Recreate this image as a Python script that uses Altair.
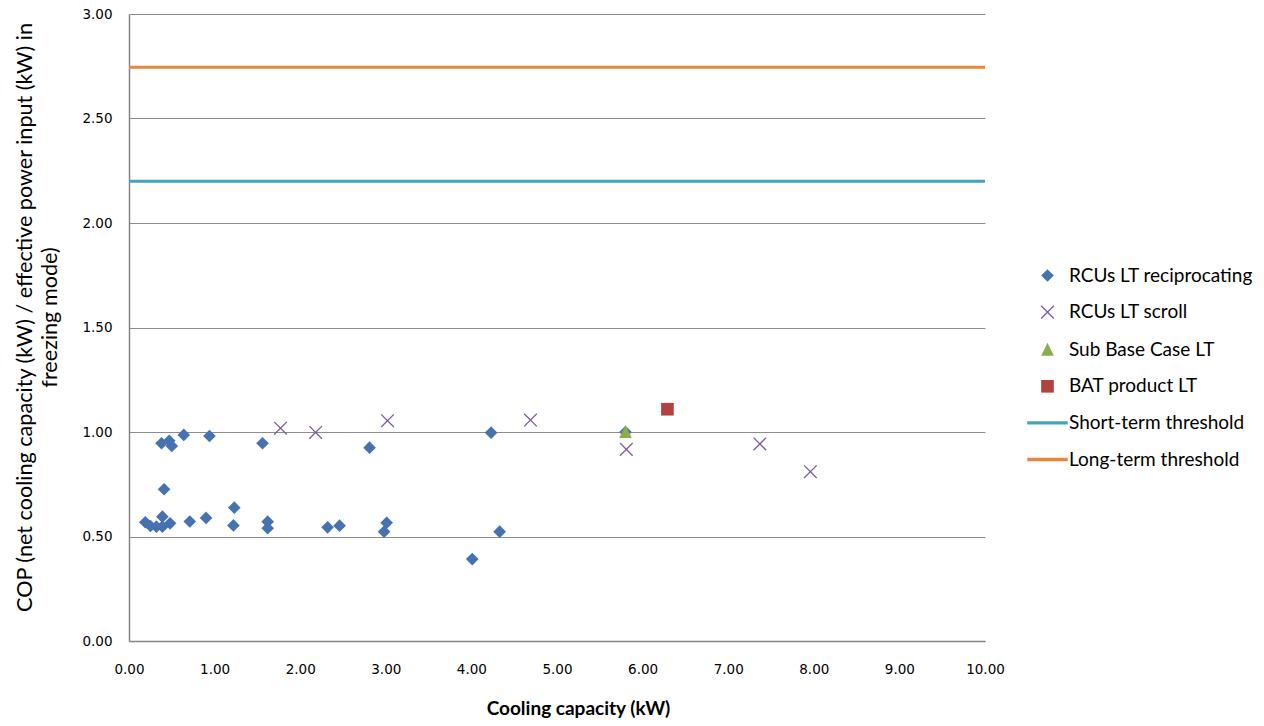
import altair as alt
import pandas as pd

series_names = [
    "RCUs LT reciprocating",
    "RCUs LT scroll",
    "Sub Base Case LT",
    "BAT product LT",
    "Short-term threshold",
    "Long-term threshold",
]

recip_x = [0.19, 0.25, 0.32, 0.39, 0.39, 0.48, 0.38, 0.47, 0.50, 0.64, 0.94, 0.41, 0.71, 0.90,
           1.22, 1.23, 1.56, 1.62, 1.62, 2.32, 2.46, 2.81, 2.98, 3.01, 4.01, 4.23, 4.33, 5.80]
recip_y = [0.568, 0.550, 0.547, 0.595, 0.547, 0.563, 0.946, 0.958, 0.933, 0.986, 0.981, 0.726, 0.572, 0.589,
           0.553, 0.638, 0.946, 0.571, 0.540, 0.544, 0.552, 0.925, 0.523, 0.566, 0.392, 0.997, 0.523, 1.00]

scroll_x = [1.77, 2.18, 3.02, 4.69, 5.81, 7.37, 7.96]
scroll_y = [1.018, 0.998, 1.054, 1.057, 0.917, 0.943, 0.810]

subbase_x = [5.80]
subbase_y = [1.00]

bat_x = [6.29]
bat_y = [1.109]

threshold_values = [2.20, 2.745]

x_ticks = [0, 1, 2, 3, 4, 5, 6, 7, 8, 9, 10]
y_ticks = [0, 0.5, 1.0, 1.5, 2.0, 2.5, 3.0]

rows = []
for name, xs, ys in [
    (series_names[0], recip_x, recip_y),
    (series_names[1], scroll_x, scroll_y),
    (series_names[2], subbase_x, subbase_y),
    (series_names[3], bat_x, bat_y),
]:
    for a, b in zip(xs, ys):
        rows.append({"series": name, "capacity": a, "cop": b})
points = pd.DataFrame(rows)
thresholds = pd.DataFrame({"series": series_names[4:], "cop": threshold_values})

X_PATH = "M-1,-1L1,1M-1,1L1,-1"
LINE_PATH = "M-3.2,-0.27H3.2V0.27H-3.2Z"
TRI_PATH = "M0,-1.1L1,0.95L-1,0.95Z"

BLUE = "#4672B0"
PURPLE = "#7A5C9E"
GREEN = "#8AAE4A"
RED = "#B0433F"
TEAL = "#46A3BF"
ORANGE = "#E8873B"

fill_range = [BLUE, "transparent", GREEN, RED, TEAL, ORANGE]
stroke_range = ["transparent", PURPLE, "transparent", "transparent", "transparent", "transparent"]
shape_range = ["diamond", X_PATH, TRI_PATH, "square", LINE_PATH, LINE_PATH]

FONT = "Lato"
TICK_FONT = "DejaVu Sans"

x_enc = alt.X(
    "capacity:Q",
    scale=alt.Scale(domain=[0, 10], nice=False, zero=True),
    axis=alt.Axis(
        values=x_ticks, format=".2f", title="Cooling capacity (kW)", grid=False,
        ticks=False, tickSize=0, labelPadding=21, labelFlush=False, labelFont=TICK_FONT,
        labelFontSize=13.5, labelColor="#000000", titleFont=FONT, titleFontSize=19,
        titleFontWeight="bold", titleColor="#000000", titlePadding=24, titleX=449,
        domainColor="#868686", domainWidth=1.5,
    ),
)
y_axis = alt.Axis(
    values=y_ticks, format=".2f",
    title=["COP (net cooling capacity (kW) / effective power input (kW) in", "freezing mode)"],
    grid=True, gridColor="#8C8C8C", gridWidth=1, ticks=False, tickSize=0, labelPadding=17,
    labelFlush=False, labelFont=TICK_FONT, labelFontSize=13.5, labelColor="#000000",
    titleFont=FONT, titleFontSize=21.6, titleFontWeight="normal", titleColor="#000000",
    titlePadding=20, titleLineHeight=25, titleY=303, domainColor="#868686", domainWidth=1.5,
)
y_scale = alt.Scale(domain=[0, 3], nice=False, zero=True)

rules = alt.Chart(thresholds).mark_rule(strokeWidth=3).encode(
    y=alt.Y("cop:Q", scale=y_scale, axis=y_axis),
    color=alt.Color("series:N", scale=alt.Scale(domain=series_names[4:], range=[TEAL, ORANGE]), legend=None),
)

legend = alt.Legend(
    title=None, orient="none", legendX=909, legendY=252, symbolSize=160, symbolStrokeWidth=1.3,
    labelFont=FONT, labelFontSize=19, labelColor="#000000", labelOffset=12, rowPadding=16.6,
    labelLimit=400,
)

pts = alt.Chart(points).mark_point(size=160, opacity=1, strokeWidth=1.3).encode(
    x=x_enc,
    y=alt.Y("cop:Q", scale=y_scale, axis=y_axis),
    fill=alt.Fill("series:N", scale=alt.Scale(domain=series_names, range=fill_range), legend=legend),
    stroke=alt.Stroke("series:N", scale=alt.Scale(domain=series_names, range=stroke_range), legend=legend),
    shape=alt.Shape("series:N", scale=alt.Scale(domain=series_names, range=shape_range), legend=legend),
)

chart = alt.layer(rules, pts).properties(
    width=856,
    height=627,
    autosize=alt.AutoSizeParams(type="none"),
    padding={"left": 121, "top": 6, "right": 271, "bottom": 79},
    background="#FFFFFF",
).configure_view(stroke=None)

chart.save("out.html", embed_options={"renderer": "svg", "actions": False})
